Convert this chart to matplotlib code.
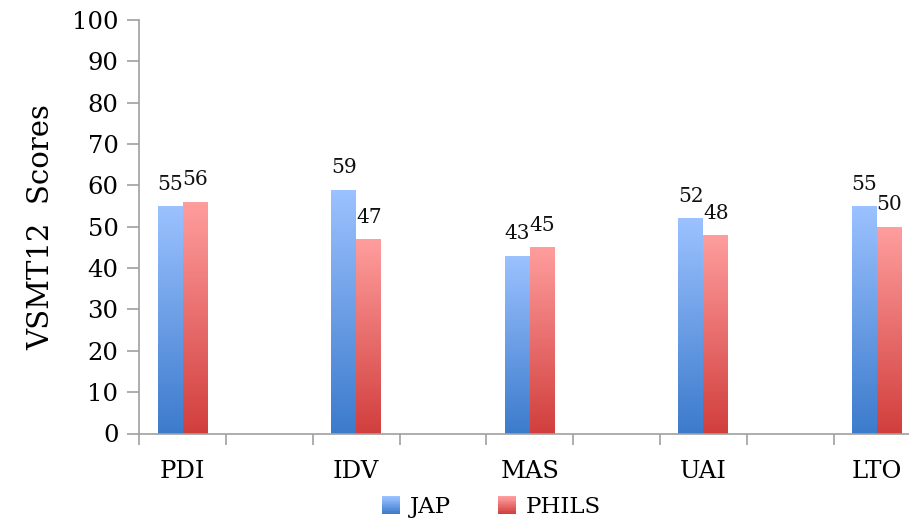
import numpy as np
import matplotlib
matplotlib.use("Agg")
import matplotlib.pyplot as plt
from matplotlib.patches import Rectangle
from matplotlib.legend_handler import HandlerBase
from matplotlib.colors import LinearSegmentedColormap

categories = ["PDI", "IDV", "MAS", "UAI", "LTO"]
jap = [55, 59, 43, 52, 55]
phils = [56, 47, 45, 48, 50]
series_names = ["JAP", "PHILS"]
yticks = list(range(0, 101, 10))

blue_top, blue_bot = "#9CC2FF", "#3C7BCC"
red_top, red_bot = "#FF9E9E", "#D13F3D"

plt.rcParams['font.family'] = ['DejaVu Serif']

fig = plt.figure(figsize=(9.09, 5.23), dpi=100)
ax = fig.add_axes([139.3/909, 1-433.5/523, 1-139.3/909, (433.5-20)/523])

pos = np.arange(len(categories)) * 2.0
w = 0.288

def grad_bars(xs, vals, top, bot):
    cmap = LinearSegmentedColormap.from_list("g", [bot, top])
    bars = ax.bar(xs, vals, width=w, color=bot, linewidth=0, zorder=2)
    grad = np.linspace(0, 1, 256).reshape(-1, 1)
    for b in bars:
        x0, y0 = b.get_x(), b.get_y()
        im = ax.imshow(grad, cmap=cmap, origin="lower", aspect="auto",
                       extent=[x0, x0 + b.get_width(), y0, y0 + b.get_height()],
                       zorder=3, interpolation="bilinear")
        im.set_clip_path(b)
    return bars

b1 = grad_bars(pos - w/2, jap, blue_top, blue_bot)
b2 = grad_bars(pos + w/2, phils, red_top, red_bot)

for bars, vals in ((b1, jap), (b2, phils)):
    for b, v in zip(bars, vals):
        ax.annotate(str(v), (b.get_x() + b.get_width()/2, v), xytext=(0, 9),
                    textcoords="offset points", ha="center", va="bottom",
                    fontsize=14.5, color="#111111")

ax.set_xlim(-0.5, 8.37)
ax.set_ylim(0, 100)
ax.set_yticks(yticks)
ax.set_yticklabels([str(t) for t in yticks], fontsize=17.5)
ax.set_xticks(np.arange(-0.5, 8.5, 1.0))
ax.set_xticklabels([])
ax.set_xticks(pos, minor=True)
ax.set_xticklabels(categories, minor=True, fontsize=17.5)
ax.tick_params(axis="x", which="minor", length=0, pad=19)
ax.tick_params(axis="x", which="major", length=8, color="#A0A0A0", width=1.2)
ax.tick_params(axis="y", length=9, color="#A0A0A0", width=1.2, pad=6)
for s in ("top", "right"):
    ax.spines[s].set_visible(False)
for s in ("left", "bottom"):
    ax.spines[s].set_color("#A0A0A0")
    ax.spines[s].set_linewidth(1.2)

ax.set_ylabel("VSMT12  Scores", fontsize=21, labelpad=12)

class GradHandler(HandlerBase):
    def __init__(self, top, bot):
        super().__init__()
        self.top, self.bot = top, bot
    def create_artists(self, legend, orig, xd, yd, width, height, fontsize, trans):
        cmap = LinearSegmentedColormap.from_list("g", [self.bot, self.top])
        n = 12
        side = min(width, height) * 1.0
        x0 = xd + (width - side) / 2 - xd * 2
        y0 = -yd + (height - side) / 2
        arts = []
        for i in range(n):
            r = Rectangle((x0, y0 + side*i/n), side, side/n + 0.3,
                          facecolor=cmap(i/(n-1)), edgecolor="none", transform=trans)
            arts.append(r)
        return arts

h1 = Rectangle((0, 0), 1, 1)
h2 = Rectangle((0, 0), 1, 1)
fig.legend([h1, h2], series_names, loc="center", bbox_to_anchor=(491/909, 1-507/523),
           ncol=2, frameon=False, fontsize=16.5, handlelength=0.85, handleheight=0.85,
           handletextpad=0.4, columnspacing=2.0,
           handler_map={h1: GradHandler(blue_top, blue_bot), h2: GradHandler(red_top, red_bot)})

fig.savefig("out.png", dpi=100)
